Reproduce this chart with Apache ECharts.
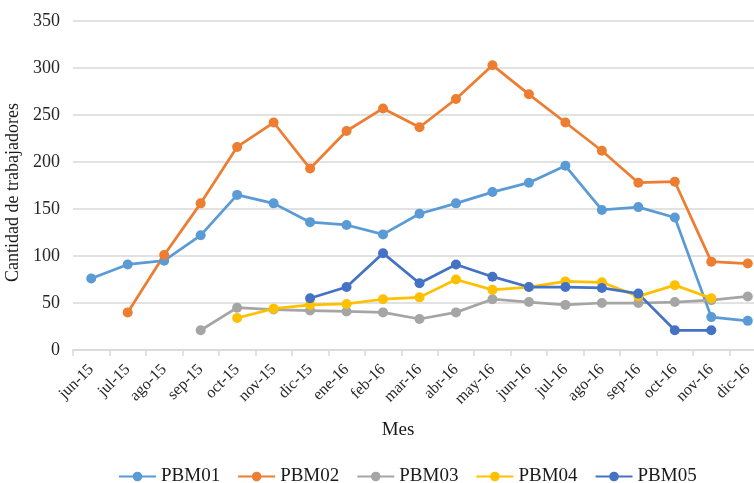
<!DOCTYPE html>
<html><head><meta charset="utf-8">
<script src="https://cdn.jsdelivr.net/npm/echarts@6/dist/echarts.min.js"></script>
<style>html,body{margin:0;padding:0;background:#fff}#c{width:754px;height:483px}</style>
</head><body><div id="c"></div>
<script>
const categories = ['jun-15','jul-15','ago-15','sep-15','oct-15','nov-15','dic-15','ene-16','feb-16','mar-16','abr-16','may-16','jun-16','jul-16','ago-16','sep-16','oct-16','nov-16','dic-16'];
const PBM01 = [76, 91, 95, 122, 165, 156, 136, 133, 123, 145, 156, 168, 178, 196, 149, 152, 141, 35, 31];
const PBM02 = [null, 40, 101, 156, 216, 242, 193, 233, 257, 237, 267, 303, 272, 242, 212, 178, 179, 94, 92];
const PBM03 = [null, null, null, 21, 45, 43, 42, 41, 40, 33, 40, 54, 51, 48, 50, 50, 51, 53, 57];
const PBM04 = [null, null, null, null, 34, 44, 48, 49, 54, 56, 75, 64, 67, 73, 72, 57, 69, 55, null];
const PBM05 = [null, null, null, null, null, null, 55, 67, 103, 71, 91, 78, 67, 67, 66, 60, 21, 21, null];
const yTicks = {min: 0, max: 350, interval: 50};

const seriesDefs = [
  ['PBM01', PBM01, '#5B9BD5'],
  ['PBM02', PBM02, '#ED7D31'],
  ['PBM03', PBM03, '#A5A5A5'],
  ['PBM04', PBM04, '#FFC000'],
  ['PBM05', PBM05, '#4472C4']
];
const font = 'Liberation Serif';
const chart = echarts.init(document.getElementById('c'));
chart.setOption({
  animation: false,
  textStyle: {fontFamily: font},
  grid: {left: 73, width: 693, top: 21, height: 329, containLabel: false, outerBoundsMode: 'none'},
  legend: {
    top: 462, left: 113, itemGap: 17, itemWidth: 37, itemHeight: 12,
    textStyle: {fontFamily: font, fontSize: 19, color: '#1a1a1a'},
    data: seriesDefs.map(s => s[0])
  },
  xAxis: {
    type: 'category', data: categories, boundaryGap: true,
    name: 'Mes', nameLocation: 'middle', nameGap: 71,
    nameTextStyle: {fontFamily: font, fontSize: 19, color: '#1a1a1a', padding: [0, 43, 0, 0]},
    axisLine: {lineStyle: {color: '#D9D9D9', width: 1.5}},
    axisTick: {show: true, length: 6, lineStyle: {color: '#D9D9D9', width: 1.5}},
    axisLabel: {rotate: 45, fontFamily: font, fontSize: 16, color: '#262626', margin: 17, interval: 0}
  },
  yAxis: {
    type: 'value', min: yTicks.min, max: yTicks.max, interval: yTicks.interval,
    name: 'Cantidad de trabajadores', nameLocation: 'middle', nameGap: 43,
    nameTextStyle: {fontFamily: font, fontSize: 18, color: '#1a1a1a', padding: [0, 14, 0, 0]},
    axisLine: {show: false}, axisTick: {show: false},
    axisLabel: {fontFamily: font, fontSize: 18, color: '#262626', margin: 13},
    splitLine: {lineStyle: {color: '#D9D9D9', width: 1.5}}
  },
  series: seriesDefs.map(s => ({
    name: s[0], type: 'line', data: s[1],
    symbol: 'circle', symbolSize: 10,
    itemStyle: {color: s[2]},
    lineStyle: {color: s[2], width: 2.75},
    connectNulls: false
  }))
});
</script></body></html>
